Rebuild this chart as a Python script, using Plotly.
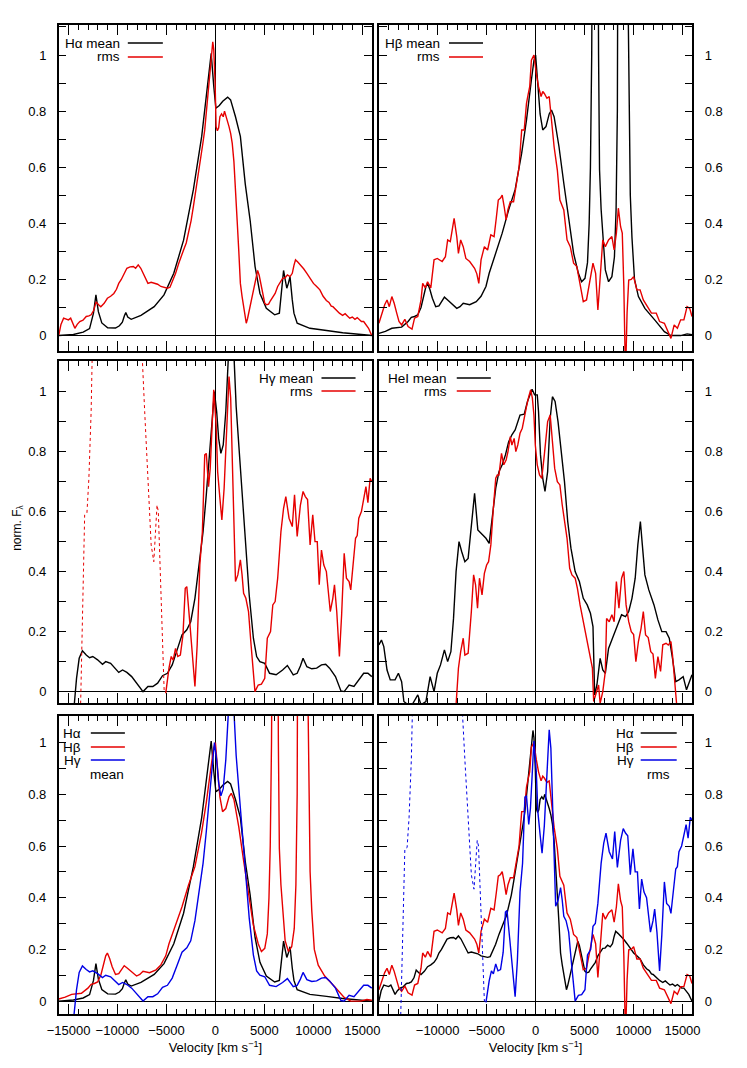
import plotly.graph_objects as go
from plotly.subplots import make_subplots

# ---------------- data: (velocity [km/s], normalised flux) ----------------
HA_MEAN = [(-16000, 0.0), (-14500, 0.004), (-13500, 0.012), (-12850, 0.025), (-12450, 0.08), (-12200, 0.145),
           (-11950, 0.085), (-11600, 0.045), (-11000, 0.028), (-10200, 0.027), (-9800, 0.035), (-9500, 0.048),
           (-9300, 0.07), (-9150, 0.082), (-8950, 0.066), (-8600, 0.058), (-7600, 0.072), (-6250, 0.103),
           (-5250, 0.145), (-4250, 0.222), (-3250, 0.34), (-2250, 0.52), (-1400, 0.71), (-850, 0.887),
           (-550, 0.97), (-430, 1.006), (-170, 0.89), (50, 0.81), (400, 0.82), (750, 0.835), (1250, 0.85),
           (1550, 0.84), (2050, 0.78), (2550, 0.71), (3050, 0.54), (3550, 0.41), (4050, 0.246), (4550, 0.15),
           (5200, 0.097), (6050, 0.074), (6530, 0.08), (6760, 0.15), (6960, 0.232), (7120, 0.2), (7290, 0.169),
           (7450, 0.186), (7620, 0.21), (7850, 0.127), (8020, 0.08), (8350, 0.044), (9650, 0.026),
           (11350, 0.018), (13000, 0.01), (16000, 0.0)]

HA_RMS = [(-16000, 0.0), (-15770, 0.04), (-15500, 0.062), (-15270, 0.058), (-15010, 0.056), (-14780, 0.062),
          (-14580, 0.045), (-14350, 0.026), (-14110, 0.04), (-13850, 0.05), (-13520, 0.055), (-13190, 0.068),
          (-12920, 0.07), (-12690, 0.074), (-12420, 0.09), (-12190, 0.12), (-11930, 0.11), (-11700, 0.103),
          (-11360, 0.115), (-11030, 0.133), (-10700, 0.14), (-10370, 0.15), (-10100, 0.165), (-9870, 0.186),
          (-9610, 0.2), (-9380, 0.216), (-9040, 0.24), (-8710, 0.245), (-8380, 0.246), (-8150, 0.24),
          (-7880, 0.252), (-7620, 0.24), (-7390, 0.222), (-7120, 0.205), (-6890, 0.186), (-6560, 0.19),
          (-6230, 0.186), (-5900, 0.183), (-5570, 0.175), (-5230, 0.172), (-4900, 0.169), (-4640, 0.172),
          (-4410, 0.19), (-4080, 0.22), (-3740, 0.258), (-3480, 0.28), (-3250, 0.305), (-2980, 0.33),
          (-2750, 0.365), (-2480, 0.41), (-2250, 0.46), (-1990, 0.52), (-1760, 0.566), (-1590, 0.6),
          (-1420, 0.638), (-1260, 0.69), (-1090, 0.733), (-930, 0.8), (-760, 0.863), (-600, 0.93),
          (-430, 1.0), (-270, 1.047), (-170, 1.02), (-30, 0.9), (70, 0.745), (200, 0.73), (330, 0.74),
          (460, 0.78), (630, 0.79), (800, 0.78), (930, 0.8), (1060, 0.785), (1230, 0.77), (1390, 0.745),
          (1560, 0.72), (1720, 0.685), (1890, 0.62), (1990, 0.566), (2120, 0.48), (2220, 0.41), (2390, 0.3),
          (2550, 0.186), (2720, 0.14), (2880, 0.103), (3050, 0.07), (3150, 0.044), (3280, 0.06), (3450, 0.09),
          (3640, 0.12), (3880, 0.163), (4110, 0.21), (4310, 0.232), (4470, 0.215), (4640, 0.186),
          (4840, 0.15), (5040, 0.115), (5230, 0.11), (5430, 0.112), (5630, 0.125), (5860, 0.139),
          (6100, 0.15), (6360, 0.175), (6630, 0.19), (6860, 0.204), (7090, 0.205), (7350, 0.216),
          (7620, 0.21), (7850, 0.222), (8020, 0.25), (8180, 0.27), (8410, 0.262), (8680, 0.252),
          (9010, 0.238), (9340, 0.222), (9670, 0.205), (10010, 0.186), (10340, 0.175), (10670, 0.163),
          (11000, 0.14), (11330, 0.125), (11600, 0.118), (11830, 0.105), (12000, 0.103), (12330, 0.09),
          (12660, 0.08), (12990, 0.072), (13250, 0.078), (13480, 0.07), (13720, 0.062), (13980, 0.066),
          (14250, 0.058), (14480, 0.064), (14710, 0.055), (14910, 0.05), (15140, 0.05), (15370, 0.04),
          (15640, 0.026), (15840, 0.01), (15970, 0.0)]

HB_MEAN = [(-16000, 0.008), (-15340, 0.015), (-14680, 0.026), (-13680, 0.03), (-13020, 0.05), (-12690, 0.065),
           (-12360, 0.068), (-12030, 0.074), (-11700, 0.1), (-11430, 0.14), (-11200, 0.175), (-11030, 0.186),
           (-10800, 0.165), (-10540, 0.133), (-10200, 0.103), (-9870, 0.106), (-9540, 0.125), (-9310, 0.137),
           (-8980, 0.127), (-8550, 0.112), (-8050, 0.097), (-7720, 0.103), (-7390, 0.115), (-6730, 0.11),
           (-6060, 0.121), (-5570, 0.14), (-5070, 0.175), (-4740, 0.222), (-4070, 0.293), (-3410, 0.365),
           (-2750, 0.448), (-2090, 0.52), (-1420, 0.65), (-930, 0.768), (-430, 0.911), (-170, 0.98),
           (0, 1.0), (230, 0.91), (460, 0.79), (730, 0.733), (1060, 0.745), (1390, 0.79), (1620, 0.804),
           (1890, 0.78), (2390, 0.673), (2880, 0.543), (3380, 0.41), (3880, 0.293), (4370, 0.222),
           (4700, 0.192), (5040, 0.204), (5300, 0.26), (5470, 0.4), (5600, 0.6), (5730, 1.0), (5930, 2.5),
           (6100, 3.5), (6260, 2.5), (6430, 1.0), (6530, 0.59), (6690, 0.45), (6860, 0.35), (7120, 0.234),
           (7450, 0.192), (7790, 0.21), (8050, 0.28), (8220, 0.45), (8350, 0.8), (8450, 1.3), (8680, 4.0),
           (8910, 8.0), (9180, 4.0), (9410, 1.3), (9540, 0.8), (9670, 0.5), (9840, 0.35), (10100, 0.2),
           (10500, 0.139), (11160, 0.097), (12160, 0.056), (13150, 0.014), (13820, 0.0), (14810, 0.0),
           (15470, 0.006), (15970, 0.003)]

HB_RMS = [(-16000, 0.044), (-15670, 0.08), (-15410, 0.11), (-15170, 0.127), (-14940, 0.103), (-14680, 0.139),
          (-14440, 0.115), (-14180, 0.08), (-13950, 0.05), (-13680, 0.038), (-13350, 0.058), (-13020, 0.032),
          (-12620, 0.023), (-12360, 0.062), (-12030, 0.068), (-11700, 0.127), (-11530, 0.186), (-11260, 0.17),
          (-11030, 0.192), (-10700, 0.17), (-10370, 0.27), (-10040, 0.275), (-9770, 0.27), (-9540, 0.264),
          (-9210, 0.281), (-8980, 0.341), (-8710, 0.335), (-8510, 0.38), (-8320, 0.418), (-8050, 0.353),
          (-7880, 0.293), (-7650, 0.341), (-7390, 0.317), (-7120, 0.275), (-6730, 0.264), (-6230, 0.24),
          (-6000, 0.22), (-5800, 0.186), (-5570, 0.27), (-5230, 0.317), (-4900, 0.305), (-4570, 0.359),
          (-4240, 0.353), (-4010, 0.42), (-3810, 0.483), (-3580, 0.49), (-3410, 0.501), (-3210, 0.46),
          (-3010, 0.412), (-2820, 0.45), (-2580, 0.477), (-2250, 0.477), (-1920, 0.543), (-1690, 0.6),
          (-1590, 0.65), (-1420, 0.733), (-1160, 0.733), (-930, 0.828), (-760, 0.86), (-600, 0.887),
          (-430, 0.982), (-170, 1.0), (70, 0.935), (300, 0.887), (560, 0.852), (730, 0.87), (890, 0.863),
          (1060, 0.85), (1160, 0.846), (1390, 0.852), (1620, 0.768), (1890, 0.673), (2220, 0.59),
          (2480, 0.483), (2880, 0.448), (3210, 0.341), (3540, 0.317), (3880, 0.258), (4210, 0.246),
          (4540, 0.186), (4870, 0.121), (5200, 0.127), (5530, 0.198), (5860, 0.258), (6130, 0.222),
          (6360, 0.091), (6530, 0.175), (6860, 0.341), (7120, 0.317), (7450, 0.341), (7790, 0.353),
          (8020, 0.305), (8250, 0.365), (8450, 0.454), (8680, 0.388), (8850, 0.365), (9010, 0.175),
          (9180, -0.15), (9340, 0.08), (9510, 0.198), (9770, 0.2), (10010, 0.21), (10340, 0.163),
          (10670, 0.163), (11000, 0.127), (11500, 0.097), (11830, 0.08), (12320, 0.08), (12660, 0.05),
          (13150, 0.044), (13480, 0.02), (13820, -0.01), (14150, 0.038), (14480, 0.026), (14810, 0.056),
          (15140, 0.056), (15470, 0.103), (15740, 0.097), (15970, 0.068)]

HG_MEAN = [(-14510, -0.08), (-14350, -0.02), (-14180, 0.044), (-13910, 0.111), (-13580, 0.136), (-13190, 0.122),
           (-12850, 0.113), (-12520, 0.117), (-12030, 0.106), (-11530, 0.091), (-11200, 0.1), (-10700, 0.094),
           (-10200, 0.078), (-9870, 0.064), (-9480, 0.072), (-9040, 0.064), (-8550, 0.05), (-8050, 0.028),
           (-7390, 0.0), (-6890, 0.017), (-6390, 0.017), (-5900, 0.028), (-5400, 0.053), (-4900, 0.061),
           (-4410, 0.089), (-3910, 0.139), (-3410, 0.189), (-2920, 0.206), (-2520, 0.233), (-2090, 0.311),
           (-1660, 0.422), (-1260, 0.533), (-930, 0.656), (-530, 0.822), (-270, 0.956), (-100, 1.0),
           (130, 0.933), (330, 0.844), (560, 0.794), (800, 0.822), (1060, 0.933), (1230, 1.067), (1390, 1.2),
           (1590, 1.3), (1790, 1.2), (1950, 1.05), (2120, 0.95), (2390, 0.822), (2720, 0.656), (3050, 0.489),
           (3450, 0.322), (3880, 0.178), (4210, 0.117), (4540, 0.1), (5040, 0.094), (5530, 0.061),
           (6200, 0.056), (6860, 0.072), (7350, 0.087), (7950, 0.056), (8350, 0.061), (8680, 0.085),
           (8950, 0.111), (9340, 0.083), (9840, 0.076), (10340, 0.078), (10830, 0.089), (11260, 0.091),
           (11660, 0.078), (12260, 0.05), (12820, 0.002), (13150, 0.0), (13650, 0.022), (14150, 0.017),
           (14640, 0.039), (15140, 0.061), (15570, 0.061), (15970, 0.05)]

HG_RMS = [(-5070, -0.005), (-4900, 0.04), (-4740, 0.078), (-4510, 0.117), (-4310, 0.105), (-4070, 0.144),
          (-3840, 0.117), (-3580, 0.122), (-3310, 0.189), (-3080, 0.344), (-2920, 0.35), (-2650, 0.244),
          (-2320, 0.089), (-2090, 0.017), (-1860, 0.156), (-1590, 0.422), (-1330, 0.533), (-1090, 0.789),
          (-930, 0.794), (-700, 0.683), (-530, 0.744), (-330, 0.911), (-170, 1.006), (70, 0.889),
          (230, 0.733), (460, 0.644), (660, 0.572), (890, 0.678), (1130, 0.878), (1390, 1.05),
          (1560, 0.978), (1720, 0.767), (1890, 0.489), (2050, 0.367), (2290, 0.389), (2550, 0.439),
          (2720, 0.39), (2880, 0.328), (3110, 0.311), (3380, 0.267), (3640, 0.156), (3880, 0.044),
          (4040, 0.0), (4370, 0.022), (4700, 0.025), (5040, 0.044), (5300, 0.178), (5630, 0.2),
          (5860, 0.289), (6100, 0.3), (6360, 0.378), (6690, 0.533), (6960, 0.611), (7190, 0.65),
          (7520, 0.578), (7850, 0.55), (8080, 0.656), (8350, 0.517), (8680, 0.622), (8950, 0.667),
          (9180, 0.65), (9410, 0.64), (9670, 0.489), (9940, 0.589), (10170, 0.5), (10400, 0.5),
          (10600, 0.356), (10830, 0.472), (11070, 0.422), (11330, 0.4), (11500, 0.333), (11730, 0.267),
          (11990, 0.311), (12160, 0.356), (12390, 0.267), (12660, 0.117), (12890, 0.256), (13150, 0.461),
          (13380, 0.378), (13650, 0.367), (13820, 0.339), (14050, 0.422), (14310, 0.511), (14480, 0.52),
          (14640, 0.578), (14910, 0.6), (15140, 0.644), (15370, 0.683), (15570, 0.63), (15800, 0.711),
          (15970, 0.7)]

# unreliable (dashed) part of the H-gamma rms spectrum
HG_RMS_DASHED = [(-13800, -0.1), (-13500, 0.4), (-13350, 0.589), (-13120, 0.594), (-12920, 0.71),
                 (-12690, 0.933), (-12520, 1.1), (-12300, 1.6), (-7700, 1.6), (-7450, 1.1), (-7220, 0.933),
                 (-6890, 0.711), (-6560, 0.489), (-6290, 0.433), (-6160, 0.522), (-5960, 0.622),
                 (-5830, 0.6), (-5630, 0.378), (-5400, 0.156), (-5230, 0.0), (-5070, -0.005)]

HEI_MEAN = [(-16000, 0.156), (-15740, 0.172), (-15500, 0.15), (-15170, 0.072), (-14840, 0.039), (-14350, 0.039),
            (-14010, 0.061), (-13680, 0.033), (-13450, -0.033), (-13020, -0.044), (-12520, -0.039),
            (-12030, -0.011), (-11700, -0.044), (-11200, -0.033), (-10770, 0.05), (-10370, 0.0),
            (-10040, 0.061), (-9710, 0.089), (-9310, 0.139), (-8980, 0.1), (-8650, 0.133), (-8380, 0.244),
            (-8120, 0.4), (-7820, 0.5), (-7550, 0.467), (-7220, 0.433), (-6890, 0.444), (-6560, 0.556),
            (-6230, 0.661), (-5900, 0.539), (-5570, 0.528), (-5070, 0.511), (-4740, 0.494), (-4410, 0.578),
            (-4070, 0.678), (-3740, 0.733), (-3410, 0.756), (-3080, 0.789), (-2750, 0.833), (-2420, 0.856),
            (-2090, 0.872), (-1590, 0.922), (-1160, 0.925), (-830, 0.967), (-600, 0.989), (-360, 1.008),
            (-100, 0.989), (170, 0.989), (300, 0.933), (500, 0.789), (730, 0.711), (960, 0.667),
            (1230, 0.733), (1490, 0.911), (1720, 0.983), (1990, 0.967), (2290, 0.9), (2620, 0.8),
            (2950, 0.7), (3280, 0.567), (3610, 0.478), (4040, 0.4), (4470, 0.367), (4870, 0.311),
            (5270, 0.289), (5600, 0.261), (5860, 0.217), (6030, -0.011), (6260, 0.022), (6590, 0.111),
            (6860, 0.072), (7120, 0.061), (7450, 0.144), (7850, 0.178), (8350, 0.222), (8780, 0.256),
            (9180, 0.25), (9510, 0.267), (9840, 0.311), (10170, 0.378), (10440, 0.489), (10700, 0.567),
            (10900, 0.489), (11160, 0.389), (11560, 0.339), (12090, 0.289), (12490, 0.239), (12890, 0.2),
            (13320, 0.2), (13650, 0.178), (13980, 0.111), (14310, 0.033), (14640, 0.039), (15070, 0.05),
            (15410, 0.006), (15740, 0.039), (15970, 0.056)]

HEI_RMS = [(-8120, -0.044), (-7880, 0.078), (-7650, 0.133), (-7390, 0.178), (-7220, 0.122), (-6890, 0.128),
           (-6560, 0.267), (-6330, 0.389), (-6130, 0.356), (-5930, 0.278), (-5730, 0.378), (-5470, 0.322),
           (-5230, 0.394), (-5000, 0.422), (-4800, 0.433), (-4570, 0.489), (-4340, 0.6), (-4070, 0.711),
           (-3910, 0.722), (-3740, 0.722), (-3480, 0.794), (-3250, 0.756), (-3010, 0.772), (-2820, 0.8),
           (-2580, 0.85), (-2420, 0.822), (-2190, 0.844), (-2020, 0.8), (-1820, 0.822), (-1590, 0.861),
           (-1360, 0.878), (-1160, 0.917), (-930, 0.95), (-700, 0.983), (-500, 1.006), (-330, 0.978),
           (-170, 0.922), (-30, 0.822), (170, 0.756), (400, 0.722), (630, 0.711), (890, 0.789),
           (1230, 0.9), (1490, 0.922), (1720, 0.844), (1950, 0.744), (2220, 0.7), (2480, 0.689),
           (2720, 0.622), (2950, 0.567), (3210, 0.511), (3480, 0.411), (3710, 0.389), (4040, 0.378),
           (4270, 0.344), (4540, 0.289), (4870, 0.233), (5140, 0.189), (5370, 0.144), (5600, 0.111),
           (5800, 0.078), (5930, -0.033), (6200, 0.0), (6430, 0.022), (6590, -0.039), (6860, 0.0),
           (7120, 0.067), (7250, 0.244), (7520, 0.233), (7790, 0.256), (8020, 0.233), (8250, 0.367),
           (8510, 0.278), (8780, 0.378), (9010, 0.4), (9240, 0.289), (9510, 0.233), (9770, 0.2),
           (10010, 0.19), (10240, 0.1), (10500, 0.167), (10770, 0.211), (11000, 0.267), (11230, 0.189),
           (11500, 0.18), (11760, 0.133), (11990, 0.125), (12230, 0.044), (12490, 0.117), (12760, 0.067),
           (12990, 0.156), (13320, 0.161), (13550, 0.155), (13820, 0.167), (13980, 0.122), (14210, 0.044),
           (14410, -0.044), (14550, -0.1)]

X_TICKS = [-15000, -10000, -5000, 0, 5000, 10000, 15000]
X_LABELS_LEFT = ["−15000", "−10000", "−5000", "0", "5000", "10000", "15000"]
X_LABELS_RIGHT = ["", "−10000", "−5000", "0", "5000", "10000", "15000"]
X_RANGE = [-16000, 16000]
Y_RANGES = [[-0.055, 1.107], [-0.038, 1.102], [-0.05, 1.103]]

BLACK, RED, BLUE = "#000000", "#e60000", "#0000e6"
FONT = "Liberation Sans, Arial, Helvetica, sans-serif"
W, H = 747, 1068


def xs(series):
    return [p[0] for p in series]


def ys(series):
    return [p[1] for p in series]


fig = make_subplots(rows=3, cols=2)


def add(series, row, col, color, width=1.4, dash=None):
    fig.add_trace(go.Scatter(x=xs(series), y=ys(series), mode="lines",
                             line=dict(color=color, width=width, dash=dash),
                             showlegend=False, hoverinfo="skip"), row=row, col=col)


# panel 1: H alpha
add(HA_MEAN, 1, 1, BLACK)
add(HA_RMS, 1, 1, RED)
# panel 2: H beta
add(HB_MEAN, 1, 2, BLACK)
add(HB_RMS, 1, 2, RED)
# panel 3: H gamma
add(HG_MEAN, 2, 1, BLACK)
add(HG_RMS, 2, 1, RED)
add(HG_RMS_DASHED, 2, 1, RED, width=1, dash="3px,3px")
# panel 4: HeI
add(HEI_MEAN, 2, 2, BLACK)
add(HEI_RMS, 2, 2, RED)
# panel 5: mean profiles
add(HA_MEAN, 3, 1, BLACK)
add(HB_MEAN, 3, 1, RED)
add(HG_MEAN, 3, 1, BLUE)
# panel 6: rms profiles
add(HA_RMS, 3, 2, BLACK)
add(HB_RMS, 3, 2, RED)
add(HG_RMS, 3, 2, BLUE)
add(HG_RMS_DASHED, 3, 2, BLUE, width=1, dash="3px,3px")

XL = [48 / W, 370 / W]
XR = [377 / W, 699 / W]
YD = [[1 - 351 / H, 1 - 25 / H], [1 - 703 / H, 1 - 361 / H], [1 - 1014 / H, 1 - 716 / H]]

tickfont = dict(family=FONT, size=13, color="black")
for i in range(6):
    row, col = i // 2, i % 2
    suffix = "" if i == 0 else str(i + 1)
    fig.layout["xaxis" + suffix].update(
        domain=XL if col == 0 else XR, range=X_RANGE, tickmode="array", tickvals=X_TICKS,
        ticktext=X_LABELS_LEFT if col == 0 else X_LABELS_RIGHT,
        showticklabels=(row == 2), ticks="inside", ticklen=10, tickwidth=1, tickcolor="black",
        minor=dict(tickmode="linear", dtick=1000, tick0=0, ticks="inside", ticklen=5, tickwidth=1,
                   tickcolor="black", showgrid=False),
        showline=True, linecolor="black", linewidth=1.5, mirror="ticks",
        showgrid=False, zeroline=True, zerolinecolor="black", zerolinewidth=1,
        tickfont=tickfont, ticklabelstandoff=4,
    )
    fig.layout["yaxis" + suffix].update(
        domain=YD[row], range=Y_RANGES[row], tickmode="linear", dtick=0.2, tick0=0,
        side="left" if col == 0 else "right",
        ticks="inside", ticklen=8, tickwidth=1, tickcolor="black",
        minor=dict(tickmode="linear", dtick=0.1, tick0=0, ticks="inside", ticklen=8, tickwidth=1,
                   tickcolor="black", showgrid=False),
        showline=True, linecolor="black", linewidth=1.5, mirror="ticks",
        showgrid=False, zeroline=True, zerolinecolor="black", zerolinewidth=1,
        tickfont=tickfont, ticklabelstandoff=8,
    )

for suffix in ("5", "6"):
    fig.layout["xaxis" + suffix].title = dict(text="Velocity [km s<sup>−1</sup>]",
                                              font=dict(family=FONT, size=13, color="black"), standoff=6)

annotations = []
shapes = []


def key(text, x_right, y, color=None, line_x0=None, line_x1=None):
    annotations.append(dict(text=text, x=x_right / W, y=1 - y / H, xref="paper", yref="paper",
                            xanchor="right", yanchor="middle", showarrow=False, borderpad=0,
                            font=dict(family=FONT, size=13.5, color="black")))
    if color is not None:
        shapes.append(dict(type="line", xref="paper", yref="paper", x0=line_x0 / W, x1=line_x1 / W,
                           y0=1 - y / H, y1=1 - y / H, line=dict(color=color, width=1.5)))


key("Hα mean", 112, 43, BLACK, 119, 155)
key("rms", 112, 57, RED, 119, 155)
key("Hβ mean", 441, 43, BLACK, 449, 484)
key("rms", 441, 57, RED, 449, 484)
key("Hγ mean", 310, 378, BLACK, 318, 353)
key("rms", 310, 391, RED, 318, 353)
key("HeI mean", 448, 378, BLACK, 457, 492)
key("rms", 448, 391, RED, 457, 492)
key("Hα", 72, 733, BLACK, 81, 116)
key("Hβ", 72, 747, RED, 81, 116)
key("Hγ", 72, 760, BLUE, 81, 116)
key("Hα", 640, 733, BLACK, 646, 683)
key("Hβ", 640, 747, RED, 646, 683)
key("Hγ", 640, 760, BLUE, 646, 683)
annotations.append(dict(text="mean", x=98 / W, y=1 - 774 / H, xref="paper", yref="paper",
                        xanchor="center", yanchor="middle", showarrow=False,
                        font=dict(family=FONT, size=13.5, color="black")))
annotations.append(dict(text="rms", x=664 / W, y=1 - 774 / H, xref="paper", yref="paper",
                        xanchor="center", yanchor="middle", showarrow=False,
                        font=dict(family=FONT, size=13.5, color="black")))
annotations.append(dict(text="norm. F<sub>λ</sub>", x=6 / W, y=1 - 528 / H, xref="paper", yref="paper",
                        xanchor="center", yanchor="middle", textangle=-90, showarrow=False,
                        font=dict(family=FONT, size=12, color="black")))

fig.update_layout(width=W, height=H, margin=dict(l=0, r=0, t=0, b=0),
                  paper_bgcolor="white", plot_bgcolor="white",
                  annotations=annotations, shapes=shapes, showlegend=False)

fig.write_html("out.html", config={"displayModeBar": False},
               post_script="document.body.style.margin='0px';")
